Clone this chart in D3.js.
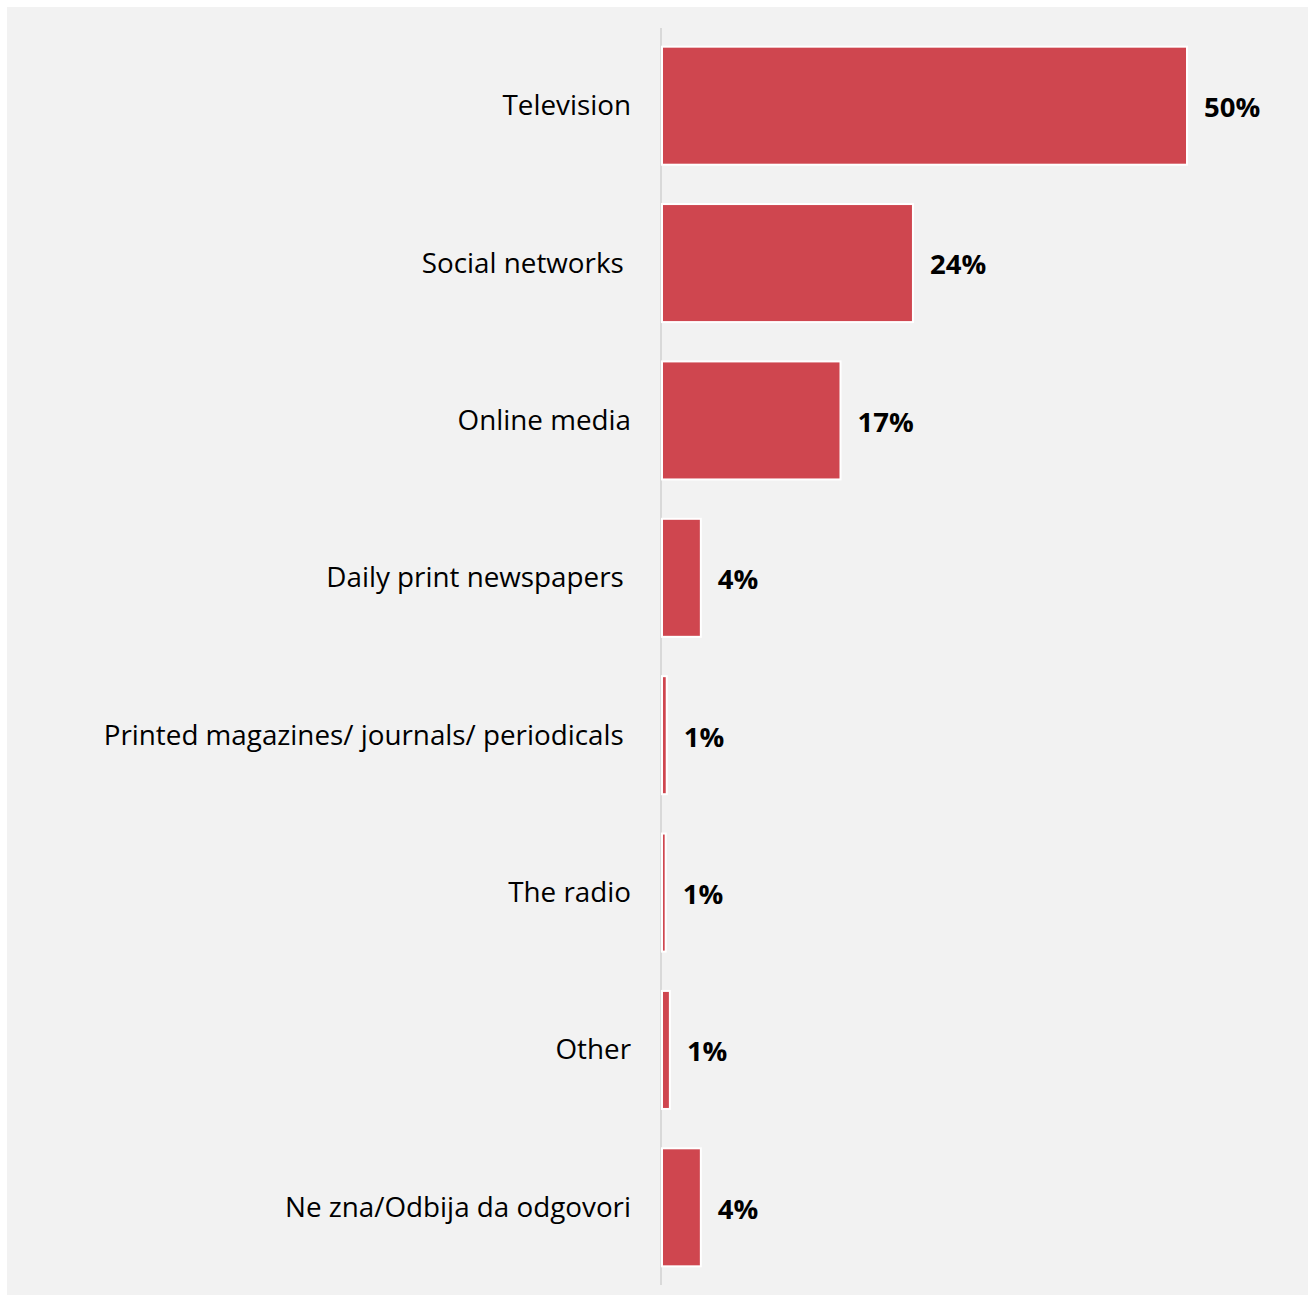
<!DOCTYPE html>
<html><head><meta charset="utf-8">
<script src="https://cdn.jsdelivr.net/npm/d3@7"></script>
<style>html,body{margin:0;padding:0;background:#fff;}</style>
</head><body>
<svg id="chart" width="1308" height="1295"></svg>
<script>
const categories = ["Television","Social networks ","Online media","Daily print newspapers ","Printed magazines/ journals/ periodicals ","The radio","Other","Ne zna/Odbija da odgovori"];
const values = [50.0, 23.9, 17.0, 3.7, 0.45, 0.35, 0.75, 3.7];
const valueLabels = ["50%","24%","17%","4%","1%","1%","1%","4%"];

const svg = d3.select("#chart");
svg.append("rect").attr("x",7).attr("y",7).attr("width",1301).attr("height",1288).attr("fill","#f2f2f2");

const x0 = 662;
const x = d3.scaleLinear().domain([0,50]).range([x0, 1187]);
const y = d3.scaleBand().domain(categories).range([27, 1286]).paddingInner(0.25).paddingOuter(0.125);

svg.append("line").attr("x1",661).attr("x2",661).attr("y1",28).attr("y2",1285)
  .attr("stroke","#d9d9d9").attr("stroke-width",2);

svg.selectAll("rect.bar").data(values).join("rect").attr("class","bar")
  .attr("x", x0).attr("y",(d,i)=>y(categories[i]))
  .attr("width", d=>x(d)-x0).attr("height", y.bandwidth())
  .attr("fill","#cf464f").attr("stroke","#ffffff").attr("stroke-width",2);

svg.selectAll("text.val").data(values).join("text").attr("class","val")
  .attr("x", d=>x(d)+17).attr("y",(d,i)=>y(categories[i])+y.bandwidth()/2+4)
  .attr("dominant-baseline","middle")
  .attr("font-family","'Open Sans', 'Noto Sans', sans-serif").attr("font-weight","bold").attr("font-size",27.5)
  .attr("fill","#000").text((d,i)=>valueLabels[i]);

svg.selectAll("text.cat").data(categories).join("text").attr("class","cat")
  .attr("x", 631).attr("y", d=>y(d)+y.bandwidth()/2+2)
  .attr("text-anchor","end").attr("dominant-baseline","middle")
  .style("white-space","pre")
  .attr("font-family","'Open Sans', 'Noto Sans', sans-serif").attr("font-size",27.8)
  .attr("fill","#000").text(d=>d);
</script>
</body></html>
